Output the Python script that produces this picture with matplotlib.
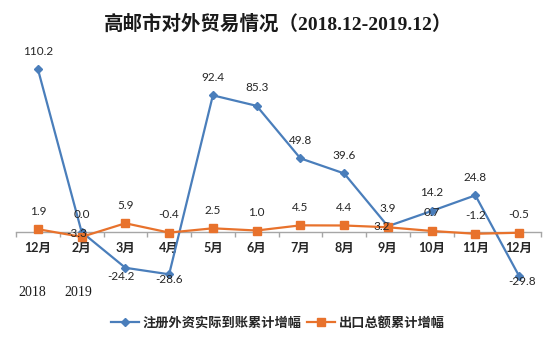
import numpy as np
import matplotlib
matplotlib.use("Agg")
import matplotlib.pyplot as plt
from matplotlib.lines import Line2D

# datos
meses = ["12月", "2月", "3月", "4月", "5月", "6月", "7月", "8月", "9月", "10月", "11月", "12月"]
inversion = [110.2, 0.0, -24.2, -28.6, 92.4, 85.3, 49.8, 39.6, 3.9, 14.2, 24.8, -29.8]
exportacion = [1.9, -3.3, 5.9, -0.4, 2.5, 1.0, 4.5, 4.4, 3.2, 0.7, -1.2, -0.5]
anios = ["2018", "2019"]
nombres = ["注册外资实际到账累计增幅", "出口总额累计增幅"]

azul = "#4A7EBB"
naranja = "#E8722C"
gris_txt = "#262626"

# desplazamiento de las etiquetas (pixeles), por defecto arriba
desp_inv = {2: (-4, -9), 3: (0, -5), 11: (3, -5)}
desp_exp = {1: (-5, 3), 8: (-6, 1)}

sans = ["Lato", "Noto Sans CJK SC"]
cjk = ["Noto Sans CJK SC", "DejaVu Sans"]
serif = ["Liberation Serif", "Noto Sans CJK SC"]

W, H = 556, 339
fig = plt.figure(figsize=(W / 100, H / 100), dpi=100)
fig.patch.set_facecolor("white")

escala = 1.479  # px por unidad
cero = 232
ymin, ymax = -35, 115
top = cero - ymax * escala
bot = cero - ymin * escala
ax = fig.add_axes([16 / W, (H - bot) / H, 525 / W, (bot - top) / H])
ax.set_xlim(-0.5, 11.5)
ax.set_ylim(ymin, ymax)

x = np.arange(len(meses))
ax.plot(x, inversion, color=azul, lw=1.6, marker="D", ms=4.3, zorder=3)
ax.plot(x, exportacion, color=naranja, lw=1.6, marker="s", ms=5.8, zorder=4)

for i, v in enumerate(inversion):
    dx, dy = desp_inv.get(i, (0, 18))
    ax.annotate(f"{v:.1f}", (i, v), xytext=(dx, dy), textcoords="offset pixels",
                ha="center", va="center", fontsize=8.5, family=sans, color=gris_txt, zorder=5)
for i, v in enumerate(exportacion):
    dx, dy = desp_exp.get(i, (0, 18))
    ax.annotate(f"{v:.1f}", (i, v), xytext=(dx, dy), textcoords="offset pixels",
                ha="center", va="center", fontsize=8.5, family=sans, color=gris_txt, zorder=5)

# eje
for s in ["left", "right", "top"]:
    ax.spines[s].set_visible(False)
ax.spines["bottom"].set_position(("data", 0))
ax.spines["bottom"].set_color("#A6A6A6")
ax.spines["bottom"].set_linewidth(1.0)
ax.set_yticks([])
ax.set_xticks(np.arange(-0.5, 12, 1))
ax.set_xticklabels([])
ax.tick_params(axis="x", which="major", length=3.3, color="#A6A6A6", width=1.0)
ax.set_xticks(x, minor=True)
ax.set_xticklabels(meses, minor=True, fontsize=9, family=sans, fontweight="bold", color=gris_txt)
ax.tick_params(axis="x", which="minor", length=0, pad=7)

# anios
fig.text(32 / W, 1 - 293 / H, anios[0], ha="center", va="center", fontsize=10, family=serif, color="#1a1a1a")
fig.text(78 / W, 1 - 293 / H, anios[1], ha="center", va="center", fontsize=10, family=serif, color="#1a1a1a")

# titulo
fig.text(0.5, 1 - 24 / H, "高邮市对外贸易情况（2018.12-2019.12）", ha="center", va="center",
         fontsize=14, family=serif, fontweight="bold", color="#1a1a1a")

manejadores = [Line2D([], [], color=azul, lw=1.6, marker="D", ms=4.3),
               Line2D([], [], color=naranja, lw=1.6, marker="s", ms=5.8)]
fig.legend(manejadores, nombres, loc="center", bbox_to_anchor=(0.5, 1 - 323 / H), ncol=2,
           frameon=False, prop={"family": cjk, "size": 9.5, "weight": "bold"},
           handlelength=2.1, handletextpad=0.3, columnspacing=0.4, labelcolor=gris_txt)

fig.savefig("out.png", dpi=100, facecolor="white")
